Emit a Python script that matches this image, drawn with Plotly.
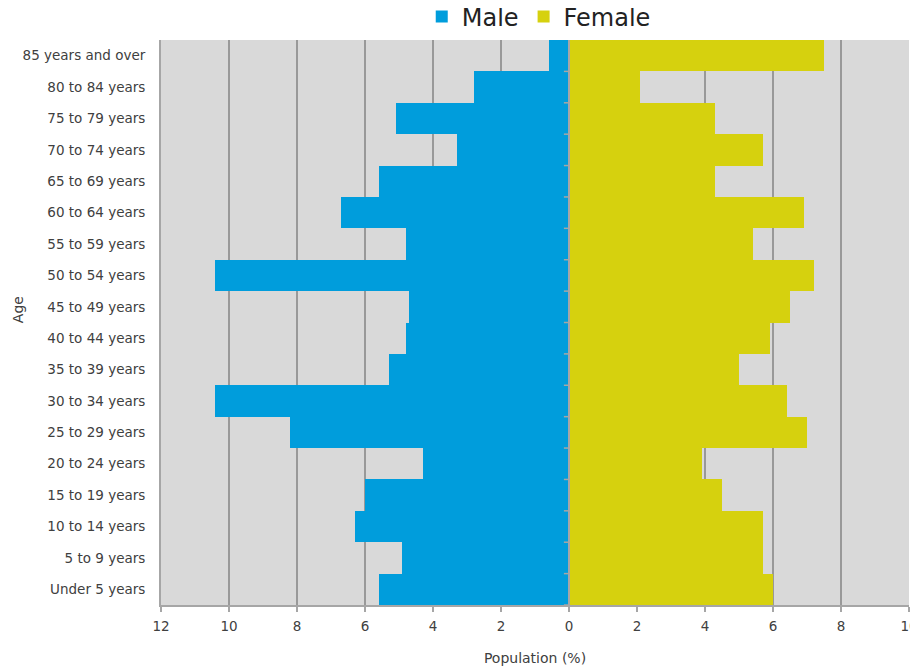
import plotly.graph_objects as go

ages = ["Under 5 years", "5 to 9 years", "10 to 14 years", "15 to 19 years", "20 to 24 years",
        "25 to 29 years", "30 to 34 years", "35 to 39 years", "40 to 44 years", "45 to 49 years",
        "50 to 54 years", "55 to 59 years", "60 to 64 years", "65 to 69 years", "70 to 74 years",
        "75 to 79 years", "80 to 84 years", "85 years and over"]
male = [5.6, 4.9, 6.3, 6.0, 4.3, 8.2, 10.4, 5.3, 4.8, 4.7, 10.4, 4.8, 6.7, 5.6, 3.3, 5.1, 2.8, 0.6]
female = [6.0, 5.7, 5.7, 4.5, 3.9, 7.0, 6.4, 5.0, 5.9, 6.5, 7.2, 5.4, 6.9, 4.3, 5.7, 4.3, 2.1, 7.5]
tick_vals = [-12, -10, -8, -6, -4, -2, 0, 2, 4, 6, 8, 10]
tick_text = ["12", "10", "8", "6", "4", "2", "0", "2", "4", "6", "8", "10"]

FONT = "Century Gothic, DejaVu Sans, sans-serif"
TXT = "#404040"
AXC = "#A6A6A6"

fig = go.Figure()
fig.add_trace(go.Bar(
    y=ages, x=[-v for v in male], orientation="h", name="Male",
    marker=dict(color="#009DDC", line=dict(width=0)),
    customdata=male, hovertemplate="%{y}: %{customdata}%<extra>Male</extra>",
))
fig.add_trace(go.Bar(
    y=ages, x=female, orientation="h", name="Female",
    marker=dict(color="#D6D10E", line=dict(width=0)),
    hovertemplate="%{y}: %{x}%<extra>Female</extra>",
))

# vertical category axis drawn at x = 0 (on top of bars), with small ticks at category boundaries
shapes = [dict(type="line", xref="x", yref="paper", x0=0, x1=0, y0=-0.01, y1=1,
               line=dict(color=AXC, width=2), layer="above")]
n = len(ages)
for i in range(n):
    b = i - 0.5
    shapes.append(dict(type="line", xref="x", yref="y", x0=-0.15, x1=0, y0=b, y1=b,
                       line=dict(color=AXC, width=1.5), layer="above"))

fig.update_layout(
    width=918, height=668,
    barmode="relative", bargap=0,
    plot_bgcolor="#D9D9D9", paper_bgcolor="white",
    font=dict(family=FONT, size=13.5, color=TXT),
    margin=dict(l=153, r=17, t=32, b=71, autoexpand=False),
    legend=dict(orientation="h", x=0.505, xanchor="center", y=1.041, yanchor="middle",
                font=dict(size=24, color="#222222"), itemwidth=30,
                traceorder="normal", bgcolor="rgba(0,0,0,0)"),
    shapes=shapes,
    xaxis=dict(
        range=[-12, 10], tickvals=tick_vals, ticktext=tick_text,
        showgrid=True, gridcolor="#999999", gridwidth=2,
        zeroline=False, showline=True, linecolor=AXC, linewidth=2,
        ticks="outside", ticklen=5, tickcolor=AXC, tickwidth=1.5, ticklabelstandoff=3,
        title=dict(text="Population (%)", font=dict(size=14), standoff=20),
        tickfont=dict(size=13.5), automargin=False,
    ),
    yaxis=dict(
        categoryorder="array", categoryarray=ages, range=[-0.5, n - 0.5],
        showgrid=False, zeroline=False, showline=True, linecolor=AXC, linewidth=2,
        ticks="outside", ticklen=11, tickcolor="rgba(0,0,0,0)",
        tickfont=dict(size=13.5), automargin=False,
    ),
    annotations=[dict(text="Age", xref="paper", yref="paper", x=-0.191, y=0.522,
                      xanchor="center", yanchor="middle", textangle=-90, showarrow=False,
                      font=dict(size=14, color=TXT))],
)

fig.write_html("out.html")
